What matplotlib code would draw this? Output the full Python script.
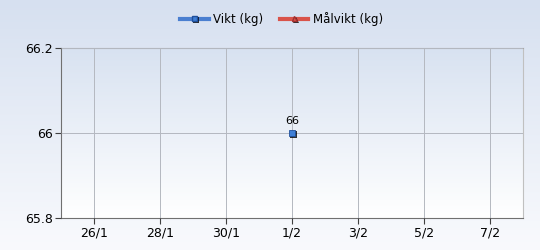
import numpy as np
import matplotlib
matplotlib.use("Agg")
import matplotlib.pyplot as plt
import matplotlib.dates as mdates
from matplotlib.colors import LinearSegmentedColormap
from matplotlib.lines import Line2D
import matplotlib.patheffects as pe
from datetime import date

# data
dates = [date(2024, 2, 1)]
weights = [66]
tick_dates = [date(2024, 1, 26), date(2024, 1, 28), date(2024, 1, 30), date(2024, 2, 1),
              date(2024, 2, 3), date(2024, 2, 5), date(2024, 2, 7)]
y_ticks = [65.8, 66, 66.2]
y_labels = ["65.8", "66", "66.2"]

fig = plt.figure(figsize=(5.4, 2.5), dpi=100)

# figure background gradient
bg = fig.add_axes([0, 0, 1, 1], zorder=-10)
cmap_fig = LinearSegmentedColormap.from_list("figbg", ["#f9fafd", "#d6e0f0"])
bg.imshow(np.linspace(0, 1, 256).reshape(-1, 1), aspect="auto", cmap=cmap_fig,
          origin="lower", extent=[0, 1, 0, 1])
bg.axis("off")

ax = fig.add_axes([61 / 540, 32 / 250, 462 / 540, 170 / 250])
ax.set_facecolor("none")
cmap_ax = LinearSegmentedColormap.from_list("axbg", ["#ffffff", "#d8e2f1"])
ax.imshow(np.linspace(0, 1, 256).reshape(-1, 1), aspect="auto", cmap=cmap_ax,
          origin="lower", extent=[0, 1, 0, 1], transform=ax.transAxes, zorder=0)

xd = mdates.date2num(dates)
shadow = [pe.SimplePatchShadow(offset=(1.2, -1.2), shadow_rgbFace="#000000", alpha=0.8), pe.Normal()]
ax.plot(xd, weights, color="#4a7fd0", lw=2, marker="s", ms=5,
        markerfacecolor="#3f7fd6", markeredgecolor="#1f4f9a", markeredgewidth=0.6,
        path_effects=shadow, zorder=5)
for x, y in zip(xd, weights):
    ax.annotate(f"{y:g}", (x, y), xytext=(0, 5), textcoords="offset points",
                ha="center", va="bottom", fontsize=8, color="#000000", zorder=6)

ax.set_xlim(mdates.date2num(date(2024, 1, 25)), mdates.date2num(date(2024, 2, 8)))
ax.set_ylim(65.8, 66.2)
ax.set_xticks(mdates.date2num(tick_dates))
ax.set_xticklabels([f"{d.day}/{d.month}" for d in tick_dates])
ax.set_yticks(y_ticks)
ax.set_yticklabels(y_labels)
ax.tick_params(labelsize=9, length=4, width=0.8, color="#404040", pad=2, labelcolor="#000000")
ax.grid(True, color="#b4b8c0", lw=0.7, zorder=1)
ax.set_axisbelow(False)
for gl in ax.get_xgridlines() + ax.get_ygridlines():
    gl.set_zorder(1)

ax.spines["left"].set_color("#707070")
ax.spines["bottom"].set_color("#707070")
ax.spines["top"].set_color("#a8a8a8")
ax.spines["right"].set_color("#c0c0c0")

handles = [
    Line2D([], [], color="#4a7fd0", lw=3, marker="s", ms=4, markerfacecolor="#3f7fd6",
           markeredgecolor="#1f4f9a", path_effects=shadow),
    Line2D([], [], color="#d9534a", lw=3, marker="^", ms=4, markerfacecolor="#d9534a",
           markeredgecolor="#a03030", path_effects=shadow),
]
fig.legend(handles, ["Vikt (kg)", "Målvikt (kg)"], loc="center", bbox_to_anchor=(0.522, 0.925),
           ncol=2, frameon=False, fontsize=8.5, handlelength=2.4, handletextpad=0.4,
           columnspacing=1.4)

fig.savefig("out.png", dpi=100)
